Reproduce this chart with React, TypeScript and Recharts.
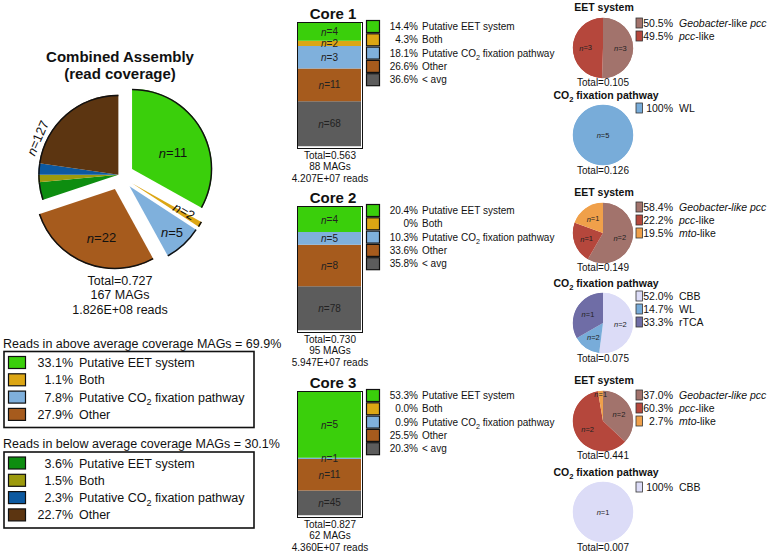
import React from "react";
import { PieChart, Pie, Cell, BarChart, Bar, XAxis, YAxis, LabelList } from "recharts";

const FONT = "'Liberation Sans', Arial, Helvetica, sans-serif";
const RAD = Math.PI / 180;

// combined assembly
const classNames = ["Putative EET system", "Both", "Putative CO2 fixation pathway", "Other"];
const abovePct = [33.1, 1.1, 7.8, 27.9];
const belowPct = [3.6, 1.5, 2.3, 22.7];
const aboveN = [11, 2, 5, 22];
const belowN = [0, 0, 0, 127];
const aboveColors = ["#3acf0b", "#dca614", "#7fb0dc", "#a65b1d"];
const belowColors = ["#0d8d10", "#9c9a0d", "#0c59a0", "#5c3511"];
const aboveShare = "69.9%";
const belowShare = "30.1%";
const combinedTotal = "0.727";
const combinedMags = 167;
const combinedReads = "1.826E+08";

// cores
const coreNames = ["Core 1", "Core 2", "Core 3"];
const coreClasses = ["Putative EET system", "Both", "Putative CO2 fixation pathway", "Other", "< avg"];
const coreEet = [14.4, 20.4, 53.3];
const coreBoth = [4.3, 0, 0.0];
const coreCo2 = [18.1, 10.3, 0.9];
const coreOther = [26.6, 33.6, 25.5];
const coreAvg = [36.6, 35.8, 20.3];
const corePctLabels = [
  ["14.4%", "4.3%", "18.1%", "26.6%", "36.6%"],
  ["20.4%", "0%", "10.3%", "33.6%", "35.8%"],
  ["53.3%", "0.0%", "0.9%", "25.5%", "20.3%"],
];
const coreNEet = [4, 4, 5];
const coreNBoth = [2, 0, 0];
const coreNCo2 = [3, 5, 1];
const coreNOther = [11, 8, 11];
const coreNAvg = [68, 78, 45];
const coreTotal = ["0.563", "0.730", "0.827"];
const coreMags = [88, 95, 62];
const coreReads = ["4.207E+07", "5.947E+07", "4.360E+07"];
const coreColors = ["#3acf0b", "#dca614", "#7fb0dc", "#a65b1d", "#5c5c5c"];

// EET system / CO2 fixation pies
const eetTypes = ["Geobacter-like pcc", "pcc-like", "mto-like"];
const eetPct = [[50.5, 49.5, 0], [58.4, 22.2, 19.5], [37.0, 60.3, 2.7]];
const eetN = [[3, 3, 0], [2, 1, 1], [2, 2, 1]];
const eetTotal = ["0.105", "0.149", "0.441"];
const eetColors = ["#a2736c", "#b5473c", "#f0a04a"];
const co2Types = ["CBB", "WL", "rTCA"];
const co2Pct = [[0, 100, 0], [52.0, 14.7, 33.3], [100, 0, 0]];
const co2N = [[0, 5, 0], [2, 2, 1], [1, 0, 0]];
const co2Total = ["0.126", "0.075", "0.007"];
const co2Colors = ["#dcdcf7", "#78acd9", "#6f6da6"];

// layout
const R = 80;
const coreTop = [23, 207, 392];
const eetY = [7, 192, 380];
const co2Y = [95, 283, 472];
const eetLegY = [23, 207, 395];
const co2LegY = [108, 296, 487];

const combined = [
  ...abovePct.map((v, i) => ({ value: v, n: aboveN[i], fill: aboveColors[i], group: i })),
  ...belowPct.map((v, i) => ({ value: v, n: belowN[i], fill: belowColors[i], group: 4 })),
];
const explode = [14, 14, 14, 14, 2];
const bigLabelSpec: Record<number, { rf: number; da: number; rot: number }> = {
  0: { rf: 0.55, da: -9, rot: 0 },
  1: { rf: 0.74, da: 3, rot: 30 },
  2: { rf: 0.78, da: 0, rot: 0 },
  3: { rf: 0.63, da: 6, rot: 0 },
  7: { rf: 1.11, da: 24.6, rot: -66 },
};

const nText = (n: number) => (
  <>
    <tspan fontStyle="italic">n</tspan>={n}
  </>
);

const withSub = (name: string, fs: number) => {
  const k = name.indexOf("CO2");
  if (k < 0) return name;
  return (
    <>
      {name.slice(0, k)}CO<tspan dy={fs * 0.3} fontSize={fs * 0.72}>2</tspan>
      <tspan dy={-fs * 0.3}>{name.slice(k + 3)}</tspan>
    </>
  );
};

const bigLabel = (g: number) => (p: any) => {
  const s = combined[p.index];
  const spec = bigLabelSpec[p.index];
  if (!s || s.group !== g || !s.n || !spec) return null;
  const a = (p.midAngle + spec.da) * RAD;
  const r = p.outerRadius * spec.rf;
  const x = p.cx + r * Math.cos(a);
  const y = p.cy - r * Math.sin(a);
  return (
    <text key={"l" + p.index} x={x} y={y} textAnchor="middle" dominantBaseline="central" fontSize={13}
      fontFamily={FONT} fill="#111" transform={spec.rot ? `rotate(${spec.rot} ${x} ${y})` : undefined}>
      {nText(s.n)}
    </text>
  );
};

function CombinedPie() {
  const total = combined.reduce((s, d) => s + d.value, 0);
  const spans: Record<number, [number, number]> = {};
  let acc = 0;
  combined.forEach((d) => {
    const a0 = acc;
    acc += d.value;
    spans[d.group] = spans[d.group] ? [spans[d.group][0], acc] : [a0, acc];
  });
  return (
    <div style={{ position: "absolute", left: 0, top: 56 }}>
      <PieChart width={240} height={240} margin={{ top: 0, right: 0, bottom: 0, left: 0 }}>
        {[0, 1, 2, 3, 4].flatMap((g) => {
          const mid = ((spans[g][0] + spans[g][1]) / 2 / total) * 2 * Math.PI;
          const cx = 120 + explode[g] * Math.sin(mid);
          const cy = 120 - explode[g] * Math.cos(mid);
          return [
            <Pie key={"f" + g} data={combined} dataKey="value" cx={cx} cy={cy} outerRadius={R}
              startAngle={90} endAngle={-270} stroke="none" isAnimationActive={false}
              labelLine={false} label={bigLabel(g)}>
              {combined.map((s, k) => <Cell key={k} fill={s.group === g ? s.fill : "none"} />)}
            </Pie>,
            <Pie key={"o" + g} data={combined} dataKey="value" cx={cx} cy={cy} innerRadius={R - 1.3}
              outerRadius={R + 0.2} startAngle={90} endAngle={-270} stroke="none" isAnimationActive={false}>
              {combined.map((s, k) => <Cell key={k} fill={s.group === g ? "#111" : "none"} />)}
            </Pie>,
          ];
        })}
      </PieChart>
    </div>
  );
}

const barN = (props: any) => {
  const { x, y, width, height, value } = props;
  if (!value) return null;
  return (
    <text x={x + width / 2} y={y + height / 2} textAnchor="middle" dominantBaseline="central"
      fontSize={10} fontFamily={FONT} fill="#222">
      {nText(value)}
    </text>
  );
};

function CoreBar({ i }: { i: number }) {
  const row = [{
    name: coreNames[i], eet: coreEet[i], both: coreBoth[i], co2: coreCo2[i], other: coreOther[i], avg: coreAvg[i],
    nEet: coreNEet[i], nBoth: coreNBoth[i], nCo2: coreNCo2[i], nOther: coreNOther[i], nAvg: coreNAvg[i],
  }];
  // bottom to top
  const segs = [
    { key: "avg", n: "nAvg", fill: coreColors[4] },
    { key: "other", n: "nOther", fill: coreColors[3] },
    { key: "co2", n: "nCo2", fill: coreColors[2] },
    { key: "both", n: "nBoth", fill: coreColors[1] },
    { key: "eet", n: "nEet", fill: coreColors[0] },
  ];
  return (
    <div style={{ position: "absolute", left: 297, top: coreTop[i] - 1, width: 65.5, height: 126.5,
      border: "1.5px solid #111", boxSizing: "border-box" }}>
      <BarChart width={62.5} height={123.5} data={row} margin={{ top: 0, right: 0, bottom: 0, left: 0 }}
        barCategoryGap={0}>
        <XAxis dataKey="name" hide />
        <YAxis hide domain={[0, 100]} allowDataOverflow />
        {segs.map((s) => (
          <Bar key={s.key} dataKey={s.key} stackId="a" fill={s.fill} isAnimationActive={false}>
            <LabelList dataKey={s.n} content={barN} />
          </Bar>
        ))}
      </BarChart>
    </div>
  );
}

const smallLabel = (data: any[]) => (p: any) => {
  const d = data[p.index];
  if (!d || !d.n) return null;
  const rf = d.value < 5 ? 0.9 : d.value === 100 ? 0 : 0.58;
  const a = p.midAngle * RAD;
  const r = p.outerRadius * rf;
  const x = p.cx + r * Math.cos(a);
  const y = p.cy - r * Math.sin(a);
  return (
    <text key={"s" + p.index} x={x} y={y} textAnchor="middle" dominantBaseline="central" fontSize={7.5}
      fontFamily={FONT} fill="#222">
      {nText(d.n)}
    </text>
  );
};

function SmallPie({ cy, values, ns, colors }: { cy: number; values: number[]; ns: number[]; colors: string[] }) {
  const data = values.map((v, k) => ({ value: v, n: ns[k], fill: colors[k] })).filter((d) => d.value > 0);
  return (
    <div style={{ position: "absolute", left: 568, top: cy - 35 }}>
      <PieChart width={70} height={70} margin={{ top: 0, right: 0, bottom: 0, left: 0 }}>
        <Pie data={data} dataKey="value" cx={35} cy={35} outerRadius={30} startAngle={90} endAngle={-270}
          stroke="none" isAnimationActive={false} labelLine={false} label={smallLabel(data)}>
          {data.map((d, k) => <Cell key={k} fill={d.fill} />)}
        </Pie>
        <Pie data={data} dataKey="value" cx={35} cy={35} innerRadius={29.2} outerRadius={30.2} startAngle={90}
          endAngle={-270} stroke="none" fill="#333" isAnimationActive={false} />
      </PieChart>
    </div>
  );
}

function TypeName({ name, allItalic }: { name: string; allItalic: boolean }) {
  if (name === "Geobacter-like pcc") {
    if (allItalic) return <tspan fontStyle="italic">{name}</tspan>;
    return (
      <>
        <tspan fontStyle="italic">Geobacter</tspan>-like <tspan fontStyle="italic">pcc</tspan>
      </>
    );
  }
  const m = name.match(/^(pcc|mto)(-like)$/);
  if (m) return <><tspan fontStyle="italic">{m[1]}</tspan>{m[2]}</>;
  return <>{name}</>;
}

const fmtPct = (v: number) => (v === 100 ? "100%" : v.toFixed(1) + "%");

function Overlay() {
  const legendBox = (title: string, top: number, pcts: number[], colors: string[]) => (
    <g>
      <text x={3} y={top - 4} fontSize={12.5}>{title}</text>
      <rect x={4} y={top} width={250} height={76} fill="none" stroke="#111" strokeWidth={1.6} />
      {classNames.map((c, k) => {
        const cy = top + 11 + k * 17.3;
        return (
          <g key={c}>
            <rect x={8.5} y={cy - 6} width={17} height={12} fill={colors[k]} stroke="#111" strokeWidth={1.2} />
            <text x={73} y={cy + 4.5} fontSize={12.5} textAnchor="end">{pcts[k].toFixed(1)}%</text>
            <text x={79} y={cy + 4.5} fontSize={12.5}>{withSub(c, 12.5)}</text>
          </g>
        );
      })}
    </g>
  );

  return (
    <svg width={773} height={558} style={{ position: "absolute", left: 0, top: 0, pointerEvents: "none" }}
      fontFamily={FONT} fill="#111">
      <text x={120} y={62} fontSize={15} fontWeight="bold" textAnchor="middle">Combined Assembly</text>
      <text x={120} y={79} fontSize={15} fontWeight="bold" textAnchor="middle">(read coverage)</text>
      <text x={120} y={285} fontSize={12.5} textAnchor="middle">Total={combinedTotal}</text>
      <text x={120} y={299} fontSize={12.5} textAnchor="middle">{combinedMags} MAGs</text>
      <text x={120} y={314} fontSize={12.5} textAnchor="middle">{combinedReads} reads</text>

      {legendBox(`Reads in above average coverage MAGs = ${aboveShare}`, 351.5, abovePct, aboveColors)}
      {legendBox(`Reads in below average coverage MAGs = ${belowShare}`, 452, belowPct, belowColors)}

      {coreNames.map((name, i) => {
        const top = coreTop[i];
        const bottom = top + 124;
        return (
          <g key={name}>
            <text x={333} y={top - 4} fontSize={15} fontWeight="bold" textAnchor="middle">{name}</text>
            <text x={330} y={bottom + 11.5} fontSize={10} textAnchor="middle">Total={coreTotal[i]}</text>
            <text x={330} y={bottom + 23} fontSize={10} textAnchor="middle">{coreMags[i]} MAGs</text>
            <text x={330} y={bottom + 35} fontSize={10} textAnchor="middle">{coreReads[i]} reads</text>
            {coreClasses.map((c, k) => {
              const cy = top + 3.5 + k * 13.3;
              return (
                <g key={c}>
                  <rect x={366.5} y={cy - 6} width={13} height={12} fill={coreColors[k]} stroke="#111" strokeWidth={1.2} />
                  <text x={418} y={cy + 3.5} fontSize={10} textAnchor="end">{corePctLabels[i][k]}</text>
                  <text x={422} y={cy + 3.5} fontSize={10}>{withSub(c, 10)}</text>
                </g>
              );
            })}

            <text x={604} y={eetY[i] + 4} fontSize={10.5} fontWeight="bold" textAnchor="middle">EET system</text>
            <text x={603} y={eetY[i] + 78.5} fontSize={10} textAnchor="middle">Total={eetTotal[i]}</text>
            {eetTypes.map((t, k) => eetPct[i][k] > 0 ? (
              <g key={t}>
                <rect x={636} y={eetLegY[i] + k * 13 - 5} width={6.5} height={10} fill={eetColors[k]} stroke="#333" strokeWidth={0.8} />
                <text x={673} y={eetLegY[i] + k * 13 + 3.7} fontSize={10.5} textAnchor="end">{fmtPct(eetPct[i][k])}</text>
                <text x={679} y={eetLegY[i] + k * 13 + 3.7} fontSize={10.5}><TypeName name={t} allItalic={i > 0} /></text>
              </g>
            ) : null)}

            <text x={606} y={co2Y[i] + 4} fontSize={10.5} fontWeight="bold" textAnchor="middle">{withSub("CO2 fixation pathway", 10.5)}</text>
            <text x={603} y={co2Y[i] + 78.5} fontSize={10} textAnchor="middle">Total={co2Total[i]}</text>
            {co2Types.map((t, k) => k).filter((k) => co2Pct[i][k] > 0).map((k, j) => (
              <g key={k}>
                <rect x={636} y={co2LegY[i] + j * 13 - 5} width={6.5} height={10} fill={co2Colors[k]} stroke="#333" strokeWidth={0.8} />
                <text x={673} y={co2LegY[i] + j * 13 + 3.7} fontSize={10.5} textAnchor="end">{fmtPct(co2Pct[i][k])}</text>
                <text x={679} y={co2LegY[i] + j * 13 + 3.7} fontSize={10.5}>{co2Types[k]}</text>
              </g>
            ))}
          </g>
        );
      })}
    </svg>
  );
}

export default function App() {
  return (
    <div style={{ position: "absolute", left: 0, top: 0, width: 773, height: 558, background: "#fff",
      overflow: "hidden", fontFamily: FONT }}>
      <CombinedPie />
      {coreNames.map((n, i) => <CoreBar key={n} i={i} />)}
      {coreNames.map((n, i) => (
        <React.Fragment key={"p" + n}>
          <SmallPie cy={eetY[i] + 41} values={eetPct[i]} ns={eetN[i]} colors={eetColors} />
          <SmallPie cy={co2Y[i] + 40} values={co2Pct[i]} ns={co2N[i]} colors={co2Colors} />
        </React.Fragment>
      ))}
      <Overlay />
    </div>
  );
}
